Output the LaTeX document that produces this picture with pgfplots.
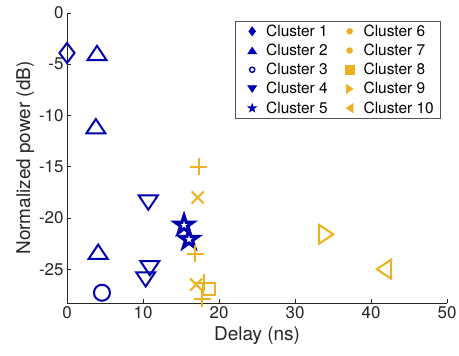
\documentclass[border=0pt]{standalone}
\usepackage{fontspec}
\setmainfont{TeX Gyre Heros}
\usepackage{pgfplots}
\pgfplotsset{compat=1.18}

\definecolor{cblue}{rgb}{0,0,0.68}
\definecolor{cyellow}{rgb}{0.929,0.694,0.125}
\definecolor{axgray}{rgb}{0.15,0.15,0.15}

% triangle centred on its bounding box
\pgfdeclareplotmark{mtri}{%
  \pgfpathmoveto{\pgfqpoint{0pt}{0.75\pgfplotmarksize}}%
  \pgfpathlineto{\pgfqpoint{\pgfplotmarksize}{-0.75\pgfplotmarksize}}%
  \pgfpathlineto{\pgfqpoint{-\pgfplotmarksize}{-0.75\pgfplotmarksize}}%
  \pgfpathclose
  \pgfusepathqstroke}
\pgfdeclareplotmark{mtri*}{%
  \pgfpathmoveto{\pgfqpoint{0pt}{0.75\pgfplotmarksize}}%
  \pgfpathlineto{\pgfqpoint{\pgfplotmarksize}{-0.75\pgfplotmarksize}}%
  \pgfpathlineto{\pgfqpoint{-\pgfplotmarksize}{-0.75\pgfplotmarksize}}%
  \pgfpathclose
  \pgfusepathqfillstroke}
% five-pointed star
\newcommand{\starpath}{%
  \pgfpathmoveto{\pgfpointpolar{90}{\pgfplotmarksize}}%
  \pgfpathlineto{\pgfpointpolar{126}{0.382\pgfplotmarksize}}%
  \pgfpathlineto{\pgfpointpolar{162}{\pgfplotmarksize}}%
  \pgfpathlineto{\pgfpointpolar{198}{0.382\pgfplotmarksize}}%
  \pgfpathlineto{\pgfpointpolar{234}{\pgfplotmarksize}}%
  \pgfpathlineto{\pgfpointpolar{270}{0.382\pgfplotmarksize}}%
  \pgfpathlineto{\pgfpointpolar{306}{\pgfplotmarksize}}%
  \pgfpathlineto{\pgfpointpolar{342}{0.382\pgfplotmarksize}}%
  \pgfpathlineto{\pgfpointpolar{18}{\pgfplotmarksize}}%
  \pgfpathlineto{\pgfpointpolar{54}{0.382\pgfplotmarksize}}%
  \pgfpathclose}
\pgfdeclareplotmark{pentagram}{\starpath\pgfusepathqstroke}
\pgfdeclareplotmark{pentagram*}{\starpath\pgfusepathqfillstroke}

% legend cell: fixed-width slot with a small filled marker in its middle
\newcommand{\legslot}{\path[draw=none, fill=none] (0bp,-4bp) (24bp,4bp);}
\newcommand{\legmark}[3][]{%
  \legslot
  \draw[#2, fill=#2, line width=0.6bp] plot[mark=#3, mark size=4.5bp, mark options={#1}] coordinates {(12bp,0bp)};}
\newcommand{\legdot}[1]{\legslot\fill[#1] (12bp,0bp) circle (2.2bp);}

\begin{document}
\begin{tikzpicture}
\begin{axis}[
  at={(0,0)}, anchor=south west,
  scale only axis,
  width=380bp, height=290bp,
  xmin=0, xmax=50, ymin=-28.3, ymax=0,
  xtick={0,10,...,50},
  ytick={-25,-20,...,0},
  yticklabels={-25,-20,-15,-10,-5,0},
  axis x line=bottom, axis y line=left,
  axis line style={-, axgray, line width=0.5bp},
  tick style={axgray, line width=0.5bp},
  tick align=inside,
  major tick length=4bp,
  tick label style={font=\fontsize{17}{20}\selectfont, text=axgray},
  /pgf/number format/assume math mode=true,
  xlabel={Delay (ns)},
  ylabel={Normalized power (dB)},
  label style={font=\fontsize{19}{22}\selectfont, text=axgray},
  xlabel style={yshift=-1bp},
  ylabel style={yshift=-2bp},
  clip=false,
  legend columns=5,
  transpose legend,
  legend cell align=left,
  legend style={
    at={(1,1)}, anchor=north east, xshift=-6bp, yshift=-8bp,
    draw=axgray!80, line width=0.6bp,
    font=\fontsize{15.5}{17}\selectfont,
    inner xsep=5bp, inner ysep=1.5bp,
    /tikz/every even column/.append style={column sep=8bp},
    row sep=2.2bp,
  },
  every axis plot/.append style={only marks, line width=2bp},
]
% blue clusters
\addplot[cblue, mark=diamond, mark size=10bp,
  legend image code/.code={\legmark{cblue}{diamond*}}]
  coordinates {(0,-3.9)};
\addlegendentry{Cluster 1}
\addplot[cblue, mark=mtri, mark size=9.5bp,
  legend image code/.code={\legmark{cblue}{mtri*}}]
  coordinates {(3.95,-3.9) (3.8,-11.05) (4.1,-23.3)};
\addlegendentry{Cluster 2}
\addplot[cblue, mark=o, mark size=8bp,
  legend image code/.code={\legslot\draw[cblue, line width=1.4bp] plot[mark=o, mark size=2.6bp] coordinates {(12bp,0bp)};}]
  coordinates {(4.6,-27.3)};
\addlegendentry{Cluster 3}
\addplot[cblue, mark=mtri, mark size=9.5bp, mark options={rotate=180},
  legend image code/.code={\legmark[rotate=180]{cblue}{mtri*}}]
  coordinates {(10.7,-18.5) (10.9,-24.9) (10.35,-26.0)};
\addlegendentry{Cluster 4}
\addplot[cblue, mark=pentagram, mark size=9.5bp, line width=3.2bp,
  legend image code/.code={\legmark{cblue}{pentagram*}}]
  coordinates {(15.4,-20.7) (16.05,-22.1)};
\addlegendentry{Cluster 5}
% yellow clusters
\addplot[cyellow, mark=+, mark size=8.5bp,
  legend image code/.code={\legdot{cyellow}}]
  coordinates {(17.35,-15.0) (16.85,-23.5) (18.0,-26.3) (17.8,-27.9)};
\addlegendentry{Cluster 6}
\addplot[cyellow, mark=x, mark size=8.5bp,
  legend image code/.code={\legdot{cyellow}}]
  coordinates {(17.2,-18.0) (17.0,-26.5)};
\addlegendentry{Cluster 7}
\addplot[cyellow, mark=square, mark size=6bp,
  legend image code/.code={\legmark{cyellow}{square*}}]
  coordinates {(18.7,-26.9)};
\addlegendentry{Cluster 8}
\addplot[cyellow, mark=mtri, mark size=9.5bp, mark options={rotate=-90},
  legend image code/.code={\legmark[rotate=-90]{cyellow}{mtri*}}]
  coordinates {(34.1,-21.6)};
\addlegendentry{Cluster 9}
\addplot[cyellow, mark=mtri, mark size=9.5bp, mark options={rotate=90},
  legend image code/.code={\legmark[rotate=90]{cyellow}{mtri*}}]
  coordinates {(41.7,-25.0)};
\addlegendentry{Cluster 10}
\end{axis}
\pgfresetboundingbox
\path (-67bp,-53bp) rectangle (392bp,303bp);
\end{tikzpicture}
\end{document}
